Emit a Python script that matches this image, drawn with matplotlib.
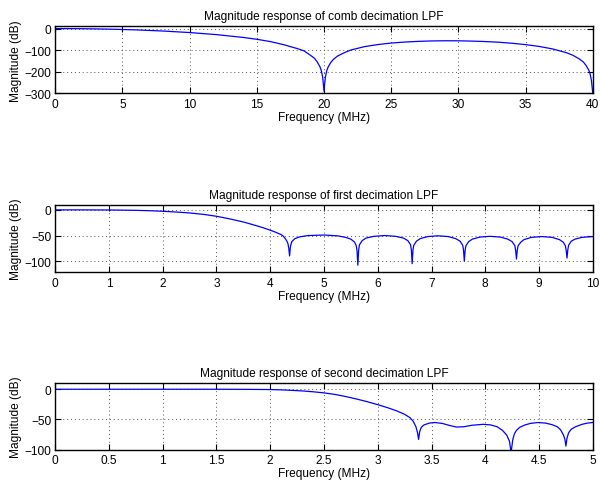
import numpy as np
import matplotlib.pyplot as plt
import matplotlib

# comb decimation LPF, 0-40 MHz
comb_freq = [0, 2, 4, 6, 8, 10, 12, 14, 15, 16, 17, 18, 18.5, 19, 19.3, 19.5, 19.7, 19.8,
             19.9, 19.95, 20, 20.05, 20.1, 20.2, 20.3, 20.5, 20.7, 21, 21.5, 22, 23, 24,
             25, 26, 27, 28, 29, 30, 31, 32, 33, 34, 35, 36, 37, 38, 38.5, 39, 39.3, 39.5,
             39.7, 39.8, 39.9, 39.95, 40]
comb_db = [0, -0.7, -2.7, -6.2, -11.4, -18.5, -28.1, -41.2, -49.7, -60.2, -74.7, -92.5,
           -103, -124, -138, -155, -177, -195, -225, -256, -290, -256, -226, -196, -179,
           -157, -143, -127.5, -112, -99.3, -83.9, -74.1, -67.2, -62.5, -59.4, -57.4,
           -56.6, -56.8, -58.1, -60.2, -63.3, -68.2, -74.4, -82.7, -94.2, -111, -123,
           -141, -155, -171, -192, -210, -240, -271, -300]

# first decimation LPF, 0-10 MHz
first_freq = [0, 0.5, 1.0, 1.25, 1.5, 1.75, 2.0, 2.25, 2.5, 2.75, 3.0, 3.25, 3.5, 3.62,
              3.75, 3.875, 4.0, 4.1, 4.2, 4.24, 4.28, 4.31, 4.33, 4.345, 4.36,
              4.375, 4.40, 4.46, 4.55, 4.7, 5.0, 5.25, 5.40, 5.50, 5.57, 5.60, 5.615, 5.63,
              5.645, 5.66, 5.71, 5.78, 5.93, 6.13, 6.33, 6.48, 6.56, 6.61, 6.625, 6.64,
              6.655, 6.67, 6.72, 6.79, 6.93, 7.12, 7.31, 7.45, 7.53, 7.58, 7.595, 7.61,
              7.625, 7.64, 7.69, 7.76, 7.90, 8.09, 8.28, 8.42, 8.50, 8.55, 8.565, 8.58,
              8.595, 8.61, 8.66, 8.72, 8.86, 9.05, 9.24, 9.38, 9.45, 9.49, 9.505, 9.52,
              9.535, 9.55, 9.60, 9.67, 9.80, 10.0]
first_db = [0.2, 0.2, 0, -0.3, -0.7, -1.4, -2.5, -4.0, -5.8, -8.5, -12.3, -17.5, -23.5,
            -27, -31, -35, -39.5, -43.5, -48, -51, -56, -61, -66, -75, -90,
            -72, -62, -56, -52.5, -50, -49, -50.5, -53.5, -57, -63, -70, -80, -108,
            -78, -68, -60, -55, -51.5, -50, -51.5, -55, -60, -68, -78, -105,
            -78, -69, -61, -56, -52, -50.5, -52, -56, -61, -69, -78, -100,
            -79, -70, -62, -57, -53, -51.5, -53, -57, -62, -70, -79, -96,
            -79, -70, -63, -58, -53.5, -52, -53.5, -58, -63, -70, -79, -94,
            -78, -69, -61, -57, -53.5, -52]

# second decimation LPF, 0-5 MHz
second_freq = [0, 0.5, 1.0, 1.5, 1.8, 2.0, 2.1, 2.2, 2.3, 2.4, 2.5, 2.6, 2.7, 2.8, 2.9,
               3.0, 3.1, 3.18, 3.25, 3.3, 3.33, 3.355, 3.37, 3.38,
               3.39, 3.405, 3.43, 3.48, 3.53, 3.6, 3.67, 3.73, 3.8, 3.88, 3.98, 4.05,
               4.11, 4.16, 4.2, 4.225, 4.24,
               4.255, 4.27, 4.29, 4.32, 4.37, 4.42, 4.49, 4.56, 4.62, 4.67, 4.70, 4.725,
               4.74, 4.75,
               4.76, 4.775, 4.80, 4.84, 4.90, 4.95, 5.0]
second_db = [0, 0, 0, 0, -0.2, -0.5, -1.0, -1.8, -2.8, -4.2, -6, -8.5, -12, -16, -20.5,
             -25.5, -31, -36, -41.5, -47, -53, -62, -72, -83,
             -70, -63, -59, -56, -55, -56.5, -60, -62.5, -62, -59.5, -58, -59,
             -62, -68, -76, -86, -105,
             -84, -74, -68, -63, -59, -56.5, -55, -56, -58.5, -62, -67, -75,
             -82, -94,
             -81, -72, -66, -62, -58, -56, -55]

matplotlib.rcParams.update({'font.family': 'Liberation Sans', 'font.size': 8.6})

panels = [
    ('Magnitude response of comb decimation LPF', comb_freq, comb_db,
     (0, 40), (-300, 10), [0, 5, 10, 15, 20, 25, 30, 35, 40], [-300, -200, -100, 0],
     [0.092, 0.807, 0.896, 0.137]),
    ('Magnitude response of first decimation LPF', first_freq, first_db,
     (0, 10), (-122, 10), list(range(0, 11)), [-100, -50, 0],
     [0.092, 0.441, 0.896, 0.138]),
    ('Magnitude response of second decimation LPF', second_freq, second_db,
     (0, 5), (-100, 10), [0, 0.5, 1, 1.5, 2, 2.5, 3, 3.5, 4, 4.5, 5], [-100, -50, 0],
     [0.092, 0.0783, 0.896, 0.136]),
]

fig = plt.figure(figsize=(6, 4.89), dpi=100)

for title, f, db, xl, yl, xt, yt, pos in panels:
    ax = fig.add_axes(pos)
    ax.plot(f, db, color='#0000ff', linewidth=0.9)
    ax.set_xlim(*xl)
    ax.set_ylim(*yl)
    ax.set_xticks(xt)
    ax.set_xticklabels([('%g' % v) for v in xt])
    ax.set_yticks(yt)
    ax.grid(True, linestyle=(0, (1, 3)), color='#555555', linewidth=0.7)
    ax.tick_params(direction='in', top=True, right=True, length=4, width=0.8, pad=3)
    for s in ax.spines.values():
        s.set_linewidth(1.0)
    ax.set_title(title, fontsize=8.6, pad=5)
    ax.set_xlabel('Frequency (MHz)', labelpad=1)
    ax.set_ylabel('Magnitude (dB)', labelpad=2)

fig.savefig('out.png', dpi=100)
